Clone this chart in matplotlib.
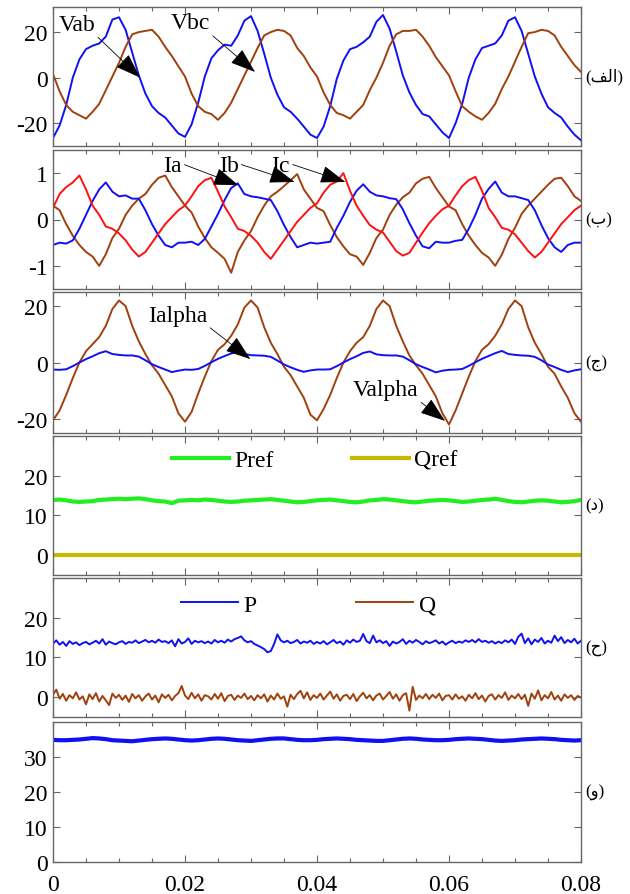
import numpy as np
import matplotlib
matplotlib.use("Agg")
import matplotlib.pyplot as plt
from matplotlib.ticker import MultipleLocator, FixedLocator

plt.rcParams['font.family'] = ['Liberation Serif', 'DejaVu Sans']
plt.rcParams['axes.unicode_minus'] = False

# ---------- DATA ----------
t1 = np.linspace(0, 0.08, 81)     # 1 ms samples
t2 = np.linspace(0, 0.08, 161)    # 0.5 ms samples

vab = [-26.5, -21, -12, 0, 8, 12.5, 14, 15, 18, 25.5, 26.5, 21, 11, 1, -7, -12.5, -15.5, -17.5, -21, -24.5, -26,
       -20.5, -11, 0.5, 8.5, 12, 14.5, 14, 18.5, 25, 27, 20.5, 10.5, 0, -7.5, -13, -15, -18, -21.5, -25, -26.5,
       -21.5, -12.5, -0.5, 7.5, 12.5, 13.5, 15.5, 18, 24.5, 27.5, 21.5, 11.5, 1, -6.5, -12, -16, -17, -20.5, -24, -26.5,
       -20, -11.5, 0, 8, 13, 14, 15, 18.5, 25, 26.5, 20.5, 10.5, 0.5, -7, -13, -15.5, -17.5, -21.5, -25, -27.5]
vbc = [1.5, -6, -12, -15, -16.5, -18, -15, -11.5, -5.5, 0.5, 6.5, 13.5, 19, 20, 20.5, 21, 18, 13.5, 9.5, 5, 0.5,
       -7, -12.5, -15, -16, -18.5, -15.5, -11, -5, 1, 7, 13, 18.5, 20, 21, 20.5, 18.5, 13, 9.5, 4.5, 0.5,
       -6.5, -12, -15.5, -16.5, -18, -15, -12, -5.5, 0, 6.5, 14, 19, 20.5, 20.5, 21, 18, 14, 9, 5, 1,
       -6, -12.5, -15, -17, -18.5, -15.5, -11.5, -5, 0.5, 7, 13.5, 19.5, 20, 21, 20.5, 18.5, 13.5, 9.5, 5.5, 2.5]

ia = [-0.55, -0.5, -0.52, -0.45, -0.2, 0.1, 0.4, 0.65, 0.8, 0.6, 0.5, 0.52, 0.45, 0.45, 0.2, -0.1, -0.35, -0.55, -0.6, -0.5, -0.5,
      -0.48, -0.55, -0.42, -0.15, 0.12, 0.42, 0.68, 0.78, 0.55, 0.5, 0.48, 0.45, 0.42, 0.18, -0.12, -0.38, -0.6, -0.55, -0.5,
      -0.52, -0.5, -0.48, -0.18, 0.08, 0.38, 0.62, 0.76, 0.6, 0.52, 0.5, 0.46, 0.44, 0.22, -0.08, -0.35, -0.58, -0.62, -0.48, -0.5,
      -0.5, -0.46, -0.44, -0.2, 0.1, 0.45, 0.66, 0.82, 0.58, 0.5, 0.5, 0.46, 0.42, 0.2, -0.12, -0.4, -0.6, -0.7, -0.55, -0.5, -0.5]
ib = [0.3, 0.2, -0.1, -0.35, -0.55, -0.7, -0.8, -1.0, -0.75, -0.4, -0.2, 0.1, 0.3, 0.45, 0.55, 0.75, 0.9, 0.95, 0.7, 0.5, 0.3,
      0.15, -0.15, -0.4, -0.6, -0.72, -0.85, -1.15, -0.7, -0.45, -0.25, 0.05, 0.3, 0.5, 0.6, 0.72, 0.85, 0.98, 0.65, 0.45,
      0.25, 0.18, -0.12, -0.38, -0.58, -0.75, -0.8, -0.98, -0.72, -0.4, -0.22, 0.1, 0.32, 0.48, 0.58, 0.78, 0.88, 0.92, 0.68, 0.48,
      0.28, 0.2, -0.1, -0.35, -0.55, -0.72, -0.82, -1.0, -0.76, -0.42, -0.18, 0.12, 0.3, 0.45, 0.6, 0.75, 0.88, 0.9, 0.72, 0.5, 0.4]
ic = [0.25, 0.55, 0.7, 0.8, 0.95, 0.65, 0.3, 0.1, -0.15, -0.2, -0.3, -0.45, -0.65, -0.8, -0.7, -0.5, -0.3, -0.1, 0.05, 0.2, 0.3,
      0.5, 0.72, 0.85, 0.9, 0.6, 0.28, 0.05, -0.2, -0.25, -0.35, -0.5, -0.7, -0.85, -0.65, -0.45, -0.25, -0.05, 0.1, 0.25,
      0.35, 0.58, 0.75, 0.82, 1.0, 0.62, 0.3, 0.08, -0.12, -0.22, -0.28, -0.48, -0.68, -0.78, -0.72, -0.5, -0.28, -0.08, 0.08, 0.22,
      0.3, 0.52, 0.72, 0.85, 0.92, 0.62, 0.25, 0.05, -0.18, -0.22, -0.32, -0.5, -0.68, -0.82, -0.7, -0.5, -0.3, -0.1, 0.05, 0.2, 0.3]

valpha = [-20.5, -17, -11.5, -5.5, 0, 4, 6.5, 9, 13, 19, 22, 20, 13, 7.5, 3, -1, -4, -8, -12, -18, -21,
          -17.5, -11, -5, 0.5, 4.5, 6.5, 9.5, 13.5, 19.5, 22, 19.5, 12.5, 7, 3, -1.5, -4.5, -8.5, -12.5, -18.5, -20.5,
          -16.5, -11.5, -5.5, 0, 4, 7, 9, 13, 19, 22, 20, 13, 7.5, 2.5, -1, -4, -8, -12, -18, -22,
          -17, -11, -5, 0.5, 4.5, 6.5, 9.5, 13.5, 19, 22, 20, 12.5, 7, 3, -1.5, -4, -8.5, -12.5, -18, -21]
ialpha = [-2.5, -2.6, -2.4, -1.3, 0, 1.2, 2.2, 3.3, 4, 3, 2.7, 2.5, 2.5, 2.1, 0.8, -0.6, -1.6, -2.5, -3.4, -2.9, -2.5,
          -2.6, -2.3, -1.2, 0.1, 1.3, 2.3, 3.2, 3.8, 3.0, 2.6, 2.5, 2.4, 2.0, 0.7, -0.7, -1.7, -2.6, -3.3, -2.8, -2.5,
          -2.5, -2.4, -1.3, 0, 1.2, 2.2, 3.4, 3.9, 2.9, 2.6, 2.5, 2.5, 2.1, 0.8, -0.6, -1.6, -2.5, -3.5, -2.9, -2.6,
          -2.5, -2.3, -1.2, 0.1, 1.3, 2.3, 3.3, 4.1, 3.0, 2.7, 2.5, 2.4, 2.0, 0.8, -0.7, -1.6, -2.6, -3.4, -2.8, -2.4]

pref = [13.9, 14.0, 13.8, 13.5, 13.4, 13.5, 13.6, 13.9, 14.0, 14.1, 14.2,
        14.1, 14.2, 14.3, 14.1, 13.8, 13.6, 13.5, 13.1, 13.7, 13.8,
        13.9, 13.8, 14.0, 13.9, 13.7, 13.5, 13.4, 13.5, 13.7, 13.8,
        13.9, 14.0, 14.1, 13.9, 13.7, 13.5, 13.3, 13.4, 13.6, 13.8,
        13.9, 14.0, 13.8, 13.6, 13.4, 13.3, 13.5, 13.8, 13.9, 14.1,
        14.0, 13.8, 13.6, 13.4, 13.3, 13.5, 13.7, 13.8, 13.9, 13.8,
        13.6, 13.4, 13.5, 13.7, 13.9, 14.0, 14.2, 13.9, 13.6, 13.4,
        13.3, 13.5, 13.7, 13.8, 13.7, 13.5, 13.3, 13.4, 13.6, 13.9]
qref = [0.0] * 81

p = [13.5, 14.3, 13.2, 13.9, 12.9, 14.1, 13.4, 13.8, 13.1, 13.6, 13.9, 13.3, 13.7, 14.2, 13.5, 14.6, 13.2, 14.0, 13.6, 13.3,
     13.8, 14.1, 13.4, 13.9, 13.7, 14.3, 13.6, 14.0, 14.4, 13.8, 14.2, 13.7, 14.5, 13.9, 14.1, 13.6, 14.3, 12.8, 14.6, 13.5,
     13.9, 14.8, 13.4, 14.2, 13.8, 14.1, 13.6, 14.0, 13.5, 14.4, 13.8, 14.2, 13.7, 14.5, 14.0, 14.6, 14.9, 15.3, 14.3, 13.8,
     14.1, 13.4, 13.0, 12.6, 12.1, 11.3, 11.6, 13.4, 15.8, 14.3, 13.8, 14.2, 13.6, 13.9, 14.4, 13.5, 14.0, 13.7, 14.2, 13.4,
     13.9, 13.5, 14.1, 13.3, 13.8, 14.4, 13.6, 14.0, 13.2, 14.3, 13.7, 14.5, 13.9, 14.2, 15.9, 14.1, 13.6, 15.5, 13.8, 14.3,
     13.6, 14.1, 12.9, 14.0, 13.5, 13.9, 14.6, 13.4, 14.2, 13.7, 14.4, 13.9, 13.3, 14.1, 13.6, 13.9, 14.3, 13.5, 14.0, 13.2,
     13.8, 14.2, 13.6, 14.0, 13.7, 14.3, 13.9, 14.4, 13.8, 14.6, 13.9, 14.2, 13.7, 14.1, 13.5, 14.0, 13.6, 14.3, 13.8, 14.5,
     13.4, 15.2, 16.0, 13.6, 14.8, 13.3, 14.5, 13.9, 14.9, 13.5, 14.2, 13.7, 15.5, 14.1, 15.1, 13.6, 14.4, 13.8, 14.7, 13.5, 14.2]
q = [0.6, 1.9, -0.4, 0.8, -0.9, 0.5, -0.3, 1.2, -0.6, 0.2, -1.8, 0.7, -0.5, 1.0, -1.1, 0.3, -0.8, -2.0, 0.9, -0.2,
     0.6, -0.7, 0.4, -1.2, 0.8, -0.3, 0.5, -0.9, 0.2, 0.9, -0.6, 0.4, -1.3, 0.7, -0.2, 0.6, -0.8, 0.3, 1.0, 2.8,
     0.4, -0.5, 1.1, -0.3, 0.7, -0.9, 0.5, 0.2, -0.6, 0.8, -0.4, 1.0, -1.0, 0.3, 0.6, -0.7, 0.4, -0.2, 0.9, -0.5,
     0.3, -0.8, 0.5, -0.3, 0.7, -1.1, 0.4, -0.6, 0.9, -0.4, 0.2, -2.4, 0.6, -0.5, 0.8, 1.6, -0.3, 1.2, -0.7, 0.5,
     -0.2, 0.9, -0.6, 0.4, 1.4, -0.4, 0.7, -0.9, 0.3, 0.6, -0.5, 0.8, -1.0, 0.2, 1.1, -0.3, 0.5, -0.8, 0.4, 0.9,
     -0.6, 0.3, 1.3, -0.4, 0.7, -0.9, 0.5, 1.0, -3.4, 2.6, -0.7, 0.4, -0.3, 0.8, -0.5, 0.6, -0.2, 0.9, -0.8, 0.3,
     0.5, -0.6, 0.7, -0.4, 0.2, -0.9, 0.6, -0.3, 1.0, -0.5, 0.4, -1.1, 0.3, 0.7, -0.6, 0.5, -0.2, 1.2, -0.7, 0.4,
     -0.3, 0.8, -0.5, 0.6, -2.2, 0.9, -0.4, 1.7, -0.8, 0.5, -0.3, 1.3, -0.6, 0.4, -0.9, 0.7, -0.2, 0.5, -0.7, 0.3, -0.1]

vdc = [34.9, 34.8, 34.8, 34.9, 35.0, 35.2, 35.4, 35.3, 35.1, 34.8, 34.7, 34.6, 34.5, 34.7, 34.9, 35.1, 35.2, 35.3, 35.2, 35.0,
       34.8, 34.7, 34.8, 35.0, 35.2, 35.3, 35.2, 35.0, 34.8, 34.7, 34.6, 34.8, 35.0, 35.2, 35.3, 35.3, 35.1, 34.9, 34.8, 34.8,
       34.9, 35.1, 35.2, 35.3, 35.2, 35.1, 34.9, 34.8, 34.7, 34.6, 34.6, 34.8, 35.0, 35.2, 35.3, 35.2, 35.0, 34.9, 34.8, 34.8,
       34.9, 35.1, 35.2, 35.3, 35.2, 35.1, 34.9, 34.7, 34.6, 34.7, 34.8, 35.0, 35.1, 35.2, 35.3, 35.2, 35.1, 34.9, 34.8, 34.7, 34.8]

panel_tags = ["(\uFED2\uFEDF\uFE8D)", "(\u0628)", "(\u062C)", "(\u062F)", "(\u062D)", "(\u0648)"]
ylims = [(-30, 31), (-1.5, 1.5), (-25, 25), (-5, 30), (-5, 30), (0, 40)]
yticks = [[-20, 0, 20], [-1, 0, 1], [-20, 0, 20], [0, 10, 20], [0, 10, 20], [0, 10, 20, 30]]
xtick_vals = [0, 0.02, 0.04, 0.06, 0.08]
xtick_labels = ["0", "0.02", "0.04", "0.06", "0.08"]

BLUE = "#1010F5"
BROWN = "#A0400C"
RED = "#FF1010"
GREEN = "#22EE22"
OLIVE = "#C8B800"
FRAME = "#666666"
FS = 17

# ---------- FIGURE ----------
fig = plt.figure(figsize=(6.3, 8.95), dpi=100)
H = 895.0
bounds = [(8, 147), (151, 290), (293, 434), (437, 576), (579, 718), (723, 863)]
axes = []
for top, bot in bounds:
    ax = fig.add_axes([53 / 630, 1 - bot / H, 528 / 630, (bot - top) / H])
    axes.append(ax)

for i, ax in enumerate(axes):
    ax.set_xlim(0, 0.08)
    ax.set_ylim(*ylims[i])
    ax.yaxis.set_major_locator(FixedLocator(yticks[i]))
    ax.xaxis.set_major_locator(FixedLocator(xtick_vals))
    ax.xaxis.set_minor_locator(MultipleLocator(0.005))
    ax.tick_params(which='both', direction='in', top=True, right=True,
                   color=FRAME, labelsize=FS, pad=4)
    ax.tick_params(which='major', length=5, width=0.8)
    ax.tick_params(which='minor', length=3, width=0.8)
    for s in ax.spines.values():
        s.set_color(FRAME)
        s.set_linewidth(1.0)
    if i < 5:
        ax.set_xticklabels([])
    else:
        ax.set_xticklabels(xtick_labels)
        ax.tick_params(axis='x', pad=9)
    ax.text(1.008, 0.5, panel_tags[i], transform=ax.transAxes, ha='left', va='center',
            fontsize=12, family=['Liberation Serif', 'DejaVu Sans'])

arrow = dict(arrowstyle='-|>,head_length=0.8,head_width=0.28', color='k', lw=0.6,
             mutation_scale=20, shrinkA=0, shrinkB=0)

# (a) line voltages
ax = axes[0]
ax.plot(t1, vab, color=BLUE, lw=1.4)
ax.plot(t1, vbc, color=BROWN, lw=1.4)
ax.annotate("Vab", xy=(0.0132, 0), xytext=(0.0036, 23.5), fontsize=FS, ha='center', va='center',
            arrowprops=dict(arrow, relpos=(1.0, 0.0)))
ax.annotate("Vbc", xy=(0.0306, 2.5), xytext=(0.0208, 24), fontsize=FS, ha='center', va='center',
            arrowprops=dict(arrow, relpos=(1.0, 0.0)))

# (b) phase currents
ax = axes[1]
ax.plot(t1, ib, color=BROWN, lw=1.4)
ax.plot(t1, ia, color=BLUE, lw=1.4)
ax.plot(t1, ic, color=RED, lw=1.4)
ax.annotate("Ia", xy=(0.0281, 0.74), xytext=(0.0181, 1.16), fontsize=FS, ha='center', va='center',
            arrowprops=dict(arrow, relpos=(1.0, 0.6)))
ax.annotate("Ib", xy=(0.0366, 0.81), xytext=(0.0266, 1.16), fontsize=FS, ha='center', va='center',
            arrowprops=dict(arrow, relpos=(1.0, 0.6)))
ax.annotate("Ic", xy=(0.0443, 0.81), xytext=(0.0345, 1.16), fontsize=FS, ha='center', va='center',
            arrowprops=dict(arrow, relpos=(1.0, 0.6)))

# (c) alpha components
ax = axes[2]
ax.plot(t1, valpha, color=BROWN, lw=1.4)
ax.plot(t1, ialpha, color=BLUE, lw=1.4)
ax.annotate("Ialpha", xy=(0.0299, 1.2), xytext=(0.0189, 16.8), fontsize=FS, ha='center', va='center',
            arrowprops=dict(arrow, relpos=(1.0, 0.0)))
ax.annotate("Valpha", xy=(0.0594, -20.7), xytext=(0.0504, -9.7), fontsize=FS, ha='center', va='center',
            arrowprops=dict(arrow, relpos=(1.0, 0.0)))

# (d) references
ax = axes[3]
ax.plot(t1, pref, color=GREEN, lw=3, label="Pref")
ax.plot(t1, qref, color=OLIVE, lw=3, label="Qref")
ax.legend(ncol=2, frameon=False, loc='center', bbox_to_anchor=(0.496, 0.827), fontsize=FS,
          handlelength=2.4, handletextpad=0.25, columnspacing=3.3)

# (e) measured powers
ax = axes[4]
ax.plot(t2, p, color=BLUE, lw=1.4, label="P")
ax.plot(t2, q, color=BROWN, lw=1.4, label="Q")
ax.legend(ncol=2, frameon=False, loc='center', bbox_to_anchor=(0.484, 0.806), fontsize=FS,
          handlelength=2.4, handletextpad=0.25, columnspacing=4.2)

# (f) dc link
ax = axes[5]
ax.plot(t1, vdc, color=BLUE, lw=3)

fig.savefig("out.png", dpi=100)
